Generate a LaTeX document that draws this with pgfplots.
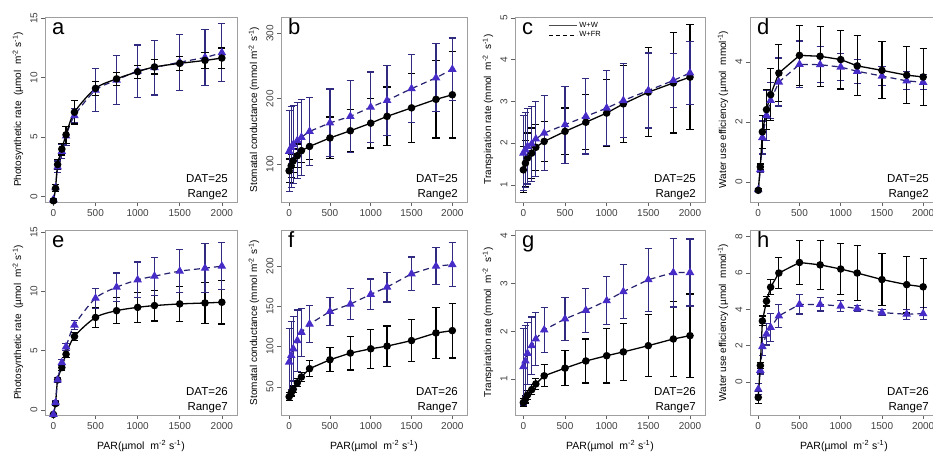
\documentclass[border=0pt]{standalone}
\usepackage{fontspec}
\setmainfont{Liberation Sans}
\usepackage{pgfplots}
\usepackage{pgfplotstable}
\pgfplotsset{compat=1.18}

\definecolor{tri}{RGB}{72,44,200}
\definecolor{navy}{RGB}{35,32,110}
\definecolor{ebblue}{RGB}{48,42,128}

% x  yb eb (W+W)  yf ef (W+FR)
\pgfplotstableread{
x yb eb yf ef
0 -0.35 0.1 -0.25 0.1
25 0.7 0.3 0.75 0.3
50 2.7 0.45 2.5 0.5
100 4.0 0.5 3.8 0.6
150 5.2 0.7 5.1 0.8
250 7.1 1.0 6.8 0.6
500 9.1 0.6 8.95 1.8
750 9.9 0.55 9.8 2.05
1000 10.5 0.55 10.55 2.2
1200 10.9 0.6 10.85 2.3
1500 11.2 0.6 11.3 2.35
1800 11.45 0.65 11.7 2.35
2000 11.65 0.85 12.1 2.45
}\tA
\pgfplotstableread{
x yb eb yf ef
0 89.7 18 119.5 62
25 97.4 18 125.6 62
50 105 18 129.7 60
100 112.8 18 136 58
150 120.5 18 141 58
250 127 20 150 52
500 140 32 163 52
750 151 32 173 55
1000 162.6 38 187 54
1200 173 45 197.4 54
1500 186 53 215.4 52
1800 199 59 232 52
2000 206 66 245 48
}\tB
\pgfplotstableread{
x yb eb yf ef
0 1.36 0.55 1.76 0.9
25 1.52 0.55 1.84 0.9
50 1.64 0.6 1.92 0.9
100 1.76 0.6 1.98 0.9
150 1.9 0.55 2.1 0.9
250 2.04 0.48 2.24 0.9
500 2.28 0.56 2.44 0.92
750 2.5 0.66 2.64 0.9
1000 2.72 0.8 2.84 0.9
1200 2.94 0.92 3.02 0.88
1500 3.22 1.06 3.26 0.9
1800 3.44 1.2 3.5 0.65
2000 3.58 1.26 3.68 0.76
}\tC
\pgfplotstableread{
x yb eb yf ef
0 -0.28 0.05 -0.26 0.05
25 0.5 0.1 0.41 0.1
50 1.67 0.55 1.48 0.55
100 2.41 0.67 2.22 0.83
150 2.91 0.86 2.72 0.6
250 3.63 0.95 3.33 0.8
500 4.22 1.0 3.92 0.78
750 4.19 1.0 3.91 0.6
1000 4.08 0.98 3.83 0.45
1200 3.87 1.0 3.69 0.4
1500 3.72 0.95 3.53 0.32
1800 3.56 0.95 3.37 0.3
2000 3.5 0.95 3.32 0.25
}\tD
\pgfplotstableread{
x yb eb yf ef
0 -0.37 0.1 -0.37 0.1
25 0.54 0.15 0.62 0.15
50 2.54 0.2 2.54 0.2
100 3.58 0.25 4.0 0.25
150 4.7 0.3 5.33 0.3
250 6.2 0.35 7.16 0.4
500 7.8 0.85 9.42 0.85
750 8.37 1.08 10.35 1.2
1000 8.65 1.27 10.97 1.5
1200 8.8 1.3 11.28 1.6
1500 8.94 1.5 11.7 1.8
1800 9.02 1.7 11.95 2.05
2000 9.08 1.83 12.12 1.98
}\tE
\pgfplotstableread{
x yb eb yf ef
0 37.7 5 80.8 42
25 42.6 4 89 42
50 47 4 97.3 40
100 55 5 107.5 38
150 62.3 6 117.8 30
250 72.6 10 128 23
500 83.7 15 143.7 17.5
750 92 21 152.8 19
1000 97.3 24 165 19
1200 100.6 25 174 18.5
1500 107.5 26 190.5 21
1800 117 32 200 23
2000 119.9 34 202 27
}\tF
\pgfplotstableread{
x yb eb yf ef
0 0.51 0.08 1.26 0.8
25 0.58 0.08 1.38 0.75
50 0.67 0.1 1.54 0.65
100 0.78 0.1 1.7 0.6
150 0.9 0.12 1.84 0.55
250 1.07 0.23 2.03 0.47
500 1.23 0.37 2.26 0.45
750 1.38 0.46 2.44 0.46
1000 1.49 0.57 2.64 0.5
1200 1.57 0.6 2.83 0.56
1500 1.7 0.65 3.08 0.66
1800 1.84 0.78 3.23 0.72
2000 1.91 0.87 3.23 0.7
}\tG
\pgfplotstableread{
x yb eb yf ef
0 -0.85 0.35 -0.4 0.3
25 0.91 0.15 0.64 0.2
50 3.36 0.27 1.95 0.5
100 4.45 0.27 2.64 0.6
150 5.22 0.41 3.0 0.75
250 6.0 0.84 3.64 0.64
500 6.58 1.23 4.27 0.53
750 6.45 1.36 4.27 0.36
1000 6.22 1.41 4.18 0.31
1200 6.0 1.5 4.04 0.18
1500 5.64 1.45 3.82 0.18
1800 5.36 1.56 3.73 0.27
2000 5.24 1.57 3.76 0.32
}\tH

\pgfplotsset{
  panel/.style={
    scale only axis, height=185pt, xmin=-100, xmax=2180,
    xtick={0,500,1000,1500,2000},
    tick align=outside, major tick length=4pt,
    axis line style={gray!75, line width=0.8pt},
    tick style={gray!75!black, line width=0.6pt},
    xtick pos=bottom, ytick pos=left,
    every tick label/.style={font=\fontsize{10}{12}\selectfont, text=black!75},
    /pgf/number format/assume math mode=true,
    /pgf/number format/1000 sep={},
    yticklabel style={rotate=90, anchor=south},
    scaled y ticks=false,
    label style={font=\fontsize{8.5}{10}\selectfont, text=black!85},
    every axis y label/.style={at={([xshift=-27pt]rel axis cs:0,0.5)}, rotate=90, anchor=center},
    every axis x label/.style={at={([yshift=-31pt]rel axis cs:0.5,0)}, anchor=center, font=\fontsize{10.5}{12}\selectfont},
    clip=false,
  },
  ww/.style={black, line width=1.3pt, mark=*, mark size=3.1pt, forget plot,
    error bars/y dir=both, error bars/y explicit,
    error bars/error bar style={black, solid, line width=1.2pt},
    error bars/error mark options={rotate=90, mark size=3.6pt, line width=1.2pt, black, solid}},
  fr/.style={navy, line width=1.2pt, dash pattern=on 6pt off 4pt, mark=triangle*, mark size=3.8pt,
    mark options={solid, fill=tri, draw=tri}, forget plot,
    error bars/y dir=both, error bars/y explicit,
    error bars/error bar style={ebblue, solid, line width=1.2pt},
    error bars/error mark options={rotate=90, mark size=3.6pt, line width=1.2pt, ebblue, solid}},
}
\newcommand{\letter}[1]{\node[anchor=base west, font=\fontsize{22}{24}\selectfont, inner sep=0pt, xshift=7pt, yshift=-18pt] at (rel axis cs:0,1) {#1};}
\newcommand{\dat}[2]{\node[anchor=south east, align=right, font=\fontsize{11.5}{15}\selectfont, inner sep=0pt, xshift=-9pt, yshift=2pt] at (rel axis cs:1,0) {DAT=#1\\Range#2};}

\begin{document}
\begin{tikzpicture}
\useasboundingbox (0,0) rectangle (933pt,454pt);

% ---- row 1 ----
\begin{axis}[panel, width=192pt, at={(45pt,437pt)}, anchor=north west,
  ymin=-0.45, ymax=15.1, ytick={0,5,10,15},
  ylabel={Photosynthetic rate\ \ (µmol\ \ m\textsuperscript{-2} s\textsuperscript{-1})}]
\addplot[fr, smooth] table[x=x, y=yf, y error=ef] {\tA};
\addplot[ww, smooth] table[x=x, y=yb, y error=eb] {\tA};
\letter{a}\dat{25}{2}
\end{axis}

\begin{axis}[panel, width=186pt, at={(281pt,437pt)}, anchor=north west,
  ymin=42, ymax=325, ytick={100,200,300},
  ylabel={Stomatal conductance (mmol m\textsuperscript{-2} s\textsuperscript{-1})}]
\addplot[ww] table[x=x, y=yb, y error=eb] {\tB};
\addplot[fr] table[x=x, y=yf, y error=ef] {\tB};
\letter{b}\dat{25}{2}
\end{axis}

\begin{axis}[panel, width=190pt, at={(515pt,437pt)}, anchor=north west,
  ymin=0.59, ymax=5.02, ytick={1,2,3,4,5},
  ylabel={Transpiration rate (mmol\ \ m\textsuperscript{-2}\ \ s\textsuperscript{-1})},
  legend style={draw=none, fill=none, at={(rel axis cs:0.175,0.985)}, anchor=north west,
    font=\fontsize{7.5}{8}\selectfont, inner sep=0pt, row sep=-1pt},
  legend cell align=left,
  legend image code/.code={\draw[#1] (0pt,0pt) -- (28pt,0pt);}]
\addplot[ww] table[x=x, y=yb, y error=eb] {\tC};
\addplot[fr] table[x=x, y=yf, y error=ef] {\tC};
\addlegendimage{gray!60!black, line width=0.9pt}
\addlegendentry{W+W}
\addlegendimage{black, line width=0.9pt, dash pattern=on 4pt off 3pt}
\addlegendentry{W+FR}
\letter{c}\dat{25}{2}
\end{axis}

\begin{axis}[panel, width=188pt, at={(750pt,437pt)}, anchor=north west,
  ymin=-0.67, ymax=5.5, ytick={0,2,4},
  ylabel={Water use efficiency (µmol\ \ mmol\textsuperscript{-1})}]
\addplot[fr] table[x=x, y=yf, y error=ef] {\tD};
\addplot[ww] table[x=x, y=yb, y error=eb] {\tD};
\letter{d}\dat{25}{2}
\end{axis}

% ---- row 2 ----
\begin{axis}[panel, width=192pt, at={(45pt,224pt)}, anchor=north west,
  ymin=-0.42, ymax=15.17, ytick={0,5,10,15},
  ylabel={Photosynthetic rate\ \ (µmol\ \ m\textsuperscript{-2} s\textsuperscript{-1})},
  xlabel={PAR(µmol\ \ m\textsuperscript{-2} s\textsuperscript{-1})}]
\addplot[ww, smooth] table[x=x, y=yb, y error=eb] {\tE};
\addplot[fr, smooth] table[x=x, y=yf, y error=ef] {\tE};
\letter{e}\dat{26}{7}
\end{axis}

\begin{axis}[panel, width=186pt, at={(281pt,224pt)}, anchor=north west,
  ymin=15, ymax=245, ytick={50,100,150,200},
  ylabel={Stomatal conductance (mmol m\textsuperscript{-2} s\textsuperscript{-1})},
  xlabel={PAR(µmol\ \ m\textsuperscript{-2} s\textsuperscript{-1})}]
\addplot[ww] table[x=x, y=yb, y error=eb] {\tF};
\addplot[fr] table[x=x, y=yf, y error=ef] {\tF};
\letter{f}\dat{26}{7}
\end{axis}

\begin{axis}[panel, width=190pt, at={(515pt,224pt)}, anchor=north west,
  ymin=0.25, ymax=4.12, ytick={1,2,3,4},
  ylabel={Transpiration rate (mmol\ \ m\textsuperscript{-2}\ \ s\textsuperscript{-1})},
  xlabel={PAR(µmol\ \ m\textsuperscript{-2} s\textsuperscript{-1})}]
\addplot[ww] table[x=x, y=yb, y error=eb] {\tG};
\addplot[fr] table[x=x, y=yf, y error=ef] {\tG};
\letter{g}\dat{26}{7}
\end{axis}

\begin{axis}[panel, width=188pt, at={(750pt,224pt)}, anchor=north west,
  ymin=-1.82, ymax=8.37, ytick={0,2,4,6,8},
  ylabel={Water use efficiency (µmol\ \ mmol\textsuperscript{-1})},
  xlabel={PAR(µmol\ \ m\textsuperscript{-2} s\textsuperscript{-1})}]
\addplot[fr] table[x=x, y=yf, y error=ef] {\tH};
\addplot[ww] table[x=x, y=yb, y error=eb] {\tH};
\letter{h}\dat{26}{7}
\end{axis}
\end{tikzpicture}
\end{document}
